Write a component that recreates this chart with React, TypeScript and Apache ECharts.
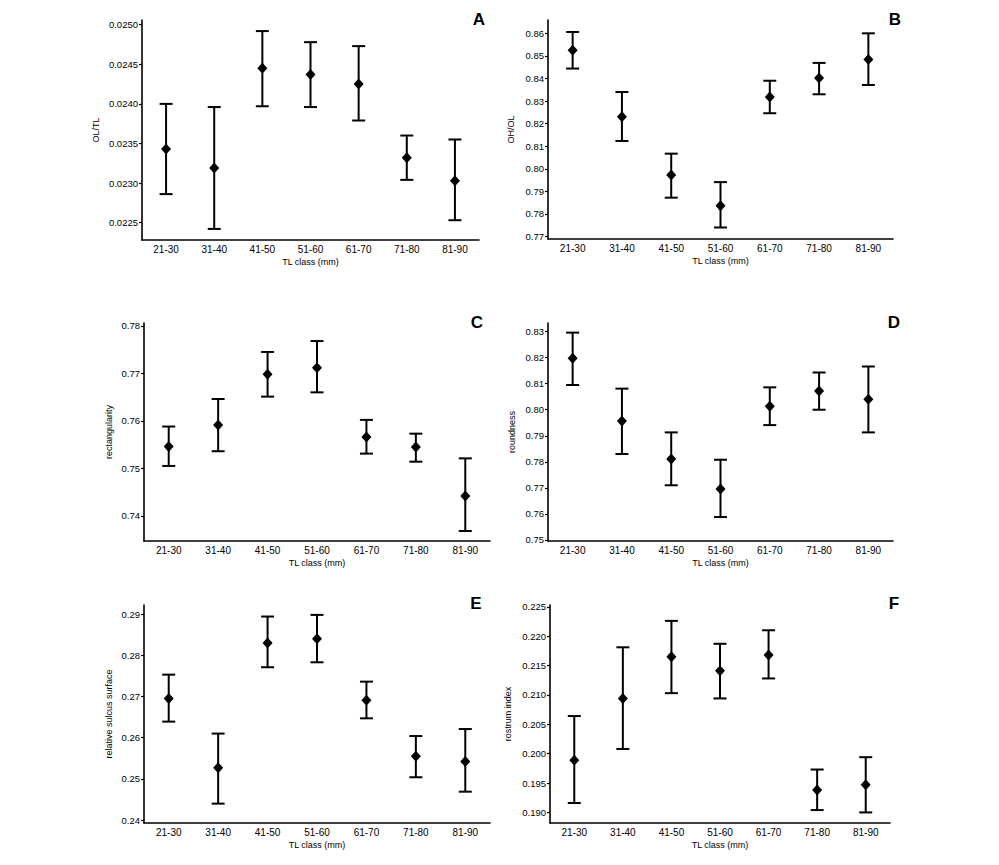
import React, { useEffect, useRef } from "react";
import * as echarts from "echarts";

// TL size classes shared by all six panels
const categories = ["21-30", "31-40", "41-50", "51-60", "61-70", "71-80", "81-90"];

// A: OL/TL
const olTlMean = [0.02343, 0.02319, 0.02445, 0.02437, 0.02425, 0.02332, 0.02303];
const olTlLow = [0.02286, 0.02242, 0.02397, 0.02396, 0.02379, 0.02304, 0.02253];
const olTlHigh = [0.024, 0.02396, 0.02492, 0.02478, 0.02473, 0.0236, 0.02355];
const olTlTicks = [0.0225, 0.023, 0.0235, 0.024, 0.0245, 0.025];

// B: OH/OL
const ohOlMean = [0.8525, 0.8231, 0.7973, 0.7836, 0.8318, 0.8402, 0.8484];
const ohOlLow = [0.8444, 0.8123, 0.7872, 0.774, 0.8246, 0.833, 0.8371];
const ohOlHigh = [0.8606, 0.834, 0.8067, 0.7941, 0.839, 0.8469, 0.86];
const ohOlTicks = [0.77, 0.78, 0.79, 0.8, 0.81, 0.82, 0.83, 0.84, 0.85, 0.86];

// C: rectangularity
const rectMean = [0.7546, 0.7591, 0.7698, 0.7712, 0.7566, 0.7545, 0.7442];
const rectLow = [0.7505, 0.7536, 0.7651, 0.766, 0.7531, 0.7514, 0.7368];
const rectHigh = [0.7588, 0.7646, 0.7745, 0.7768, 0.7602, 0.7573, 0.7521];
const rectTicks = [0.74, 0.75, 0.76, 0.77, 0.78];

// D: roundness
const roundMean = [0.8198, 0.7957, 0.7811, 0.7696, 0.8013, 0.8072, 0.804];
const roundLow = [0.8095, 0.783, 0.771, 0.7588, 0.7941, 0.8, 0.7913];
const roundHigh = [0.8296, 0.8081, 0.7913, 0.7808, 0.8086, 0.8143, 0.8166];
const roundTicks = [0.75, 0.76, 0.77, 0.78, 0.79, 0.8, 0.81, 0.82, 0.83];

// E: relative sulcus surface
const sulcusMean = [0.2695, 0.2527, 0.283, 0.284, 0.2691, 0.2555, 0.2542];
const sulcusLow = [0.2639, 0.244, 0.2771, 0.2783, 0.2647, 0.2504, 0.2469];
const sulcusHigh = [0.2753, 0.261, 0.2894, 0.2898, 0.2736, 0.2604, 0.2621];
const sulcusTicks = [0.24, 0.25, 0.26, 0.27, 0.28, 0.29];

// F: rostrum index
const rostrumMean = [0.1989, 0.2094, 0.2165, 0.2141, 0.2168, 0.1938, 0.1947];
const rostrumLow = [0.1916, 0.2008, 0.2103, 0.2094, 0.2128, 0.1904, 0.19];
const rostrumHigh = [0.2064, 0.2181, 0.2226, 0.2187, 0.221, 0.1973, 0.1994];
const rostrumTicks = [0.19, 0.195, 0.2, 0.205, 0.21, 0.215, 0.22, 0.225];

const FONT = "'Liberation Sans', Arial, Helvetica, sans-serif";

type Panel = {
  letter: string;
  yName: string;
  mean: number[];
  low: number[];
  high: number[];
  ticks: number[];
  decimals: number;
  min: number;
  max: number;
  grid: { left: number; top: number; width: number; height: number };
  nameGap: number;
  letterPos: [number, number];
};

const panels: Panel[] = [
  {
    letter: "A", yName: "OL/TL", mean: olTlMean, low: olTlLow, high: olTlHigh,
    ticks: olTlTicks, decimals: 4, min: 0.02228, max: 0.02506,
    grid: { left: 142, top: 20, width: 337, height: 220 }, nameGap: 42, letterPos: [479, 19],
  },
  {
    letter: "B", yName: "OH/OL", mean: ohOlMean, low: ohOlLow, high: ohOlHigh,
    ticks: ohOlTicks, decimals: 2, min: 0.7689, max: 0.8659,
    grid: { left: 548, top: 20, width: 345, height: 219 }, nameGap: 33, letterPos: [895, 19],
  },
  {
    letter: "C", yName: "rectangularity", mean: rectMean, low: rectLow, high: rectHigh,
    ticks: rectTicks, decimals: 2, min: 0.7347, max: 0.7806,
    grid: { left: 144, top: 323, width: 346, height: 218 }, nameGap: 31, letterPos: [477, 322],
  },
  {
    letter: "D", yName: "roundness", mean: roundMean, low: roundLow, high: roundHigh,
    ticks: roundTicks, decimals: 2, min: 0.7496, max: 0.8333,
    grid: { left: 548, top: 323, width: 345, height: 218 }, nameGap: 32, letterPos: [894, 322],
  },
  {
    letter: "E", yName: "relative sulcus surface", mean: sulcusMean, low: sulcusLow, high: sulcusHigh,
    ticks: sulcusTicks, decimals: 2, min: 0.2393, max: 0.2922,
    grid: { left: 144, top: 605, width: 346, height: 218 }, nameGap: 31, letterPos: [476, 603],
  },
  {
    letter: "F", yName: "rostrum index", mean: rostrumMean, low: rostrumLow, high: rostrumHigh,
    ticks: rostrumTicks, decimals: 3, min: 0.1882, max: 0.2253,
    grid: { left: 550, top: 605, width: 340, height: 218 }, nameGap: 38, letterPos: [894, 603],
  },
];

function buildOption(): echarts.EChartsOption {
  const grid: any[] = [];
  const xAxis: any[] = [];
  const yAxis: any[] = [];
  const series: any[] = [];
  const graphic: any[] = [];

  panels.forEach((p, i) => {
    grid.push({ ...p.grid });
    xAxis.push({
      type: "category",
      gridIndex: i,
      data: categories,
      boundaryGap: true,
      name: "TL class (mm)",
      nameLocation: "middle",
      nameGap: 17,
      nameTextStyle: { fontFamily: FONT, fontSize: 9, color: "#000" },
      axisLine: { lineStyle: { color: "#000", width: 1.6 } },
      axisTick: { alignWithLabel: true, length: 3, lineStyle: { color: "#000", width: 1.2 } },
      axisLabel: { fontFamily: FONT, fontSize: 10, color: "#000", margin: 4 },
      splitLine: { show: false },
    });
    yAxis.push({
      type: "value",
      gridIndex: i,
      min: p.min,
      max: p.max,
      name: p.yName,
      nameLocation: "middle",
      nameGap: p.nameGap,
      nameTextStyle: { fontFamily: FONT, fontSize: 9, color: "#000" },
      axisLine: { show: true, lineStyle: { color: "#000", width: 1.6 } },
      axisTick: { show: true, length: 3, customValues: p.ticks, lineStyle: { color: "#000", width: 1.2 } },
      axisLabel: {
        fontFamily: FONT,
        fontSize: 9.5,
        color: "#000",
        margin: 4,
        customValues: p.ticks,
        formatter: (v: number) => v.toFixed(p.decimals),
      },
      splitLine: { show: false },
    });

    // error bars: vertical whisker with caps
    series.push({
      type: "custom",
      xAxisIndex: i,
      yAxisIndex: i,
      data: categories.map((_, k) => [k, p.low[k], p.high[k]]),
      encode: { x: 0, y: [1, 2] },
      renderItem: (params: any, api: any) => {
        const k = api.value(0);
        const lo = api.coord([k, api.value(1)]);
        const hi = api.coord([k, api.value(2)]);
        const w = 6.5;
        const style = { stroke: "#000", lineWidth: 2 };
        return {
          type: "group",
          children: [
            { type: "line", shape: { x1: hi[0], y1: hi[1], x2: lo[0], y2: lo[1] }, style },
            { type: "line", shape: { x1: hi[0] - w, y1: hi[1], x2: hi[0] + w, y2: hi[1] }, style },
            { type: "line", shape: { x1: lo[0] - w, y1: lo[1], x2: lo[0] + w, y2: lo[1] }, style },
          ],
        };
      },
      z: 2,
    });

    // means
    series.push({
      type: "scatter",
      xAxisIndex: i,
      yAxisIndex: i,
      data: p.mean,
      symbol: "diamond",
      symbolSize: [10, 11],
      itemStyle: { color: "#000", opacity: 1 },
      z: 3,
    });

    graphic.push({
      type: "text",
      x: p.letterPos[0],
      y: p.letterPos[1],
      style: {
        text: p.letter,
        fontFamily: FONT,
        fontSize: 17,
        fontWeight: "bold",
        fill: "#000",
        align: "center",
        verticalAlign: "middle",
      },
    });
  });

  return {
    animation: false,
    backgroundColor: "#ffffff",
    grid,
    xAxis,
    yAxis,
    series,
    graphic,
  };
}

export default function App() {
  const ref = useRef<HTMLDivElement>(null);

  useEffect(() => {
    if (!ref.current) return;
    const chart = echarts.init(ref.current, undefined, { renderer: "svg" });
    chart.setOption(buildOption());
    return () => chart.dispose();
  }, []);

  return (
    <div
      ref={ref}
      style={{ position: "absolute", left: 0, top: 0, width: 999, height: 865, background: "#fff" }}
    />
  );
}
